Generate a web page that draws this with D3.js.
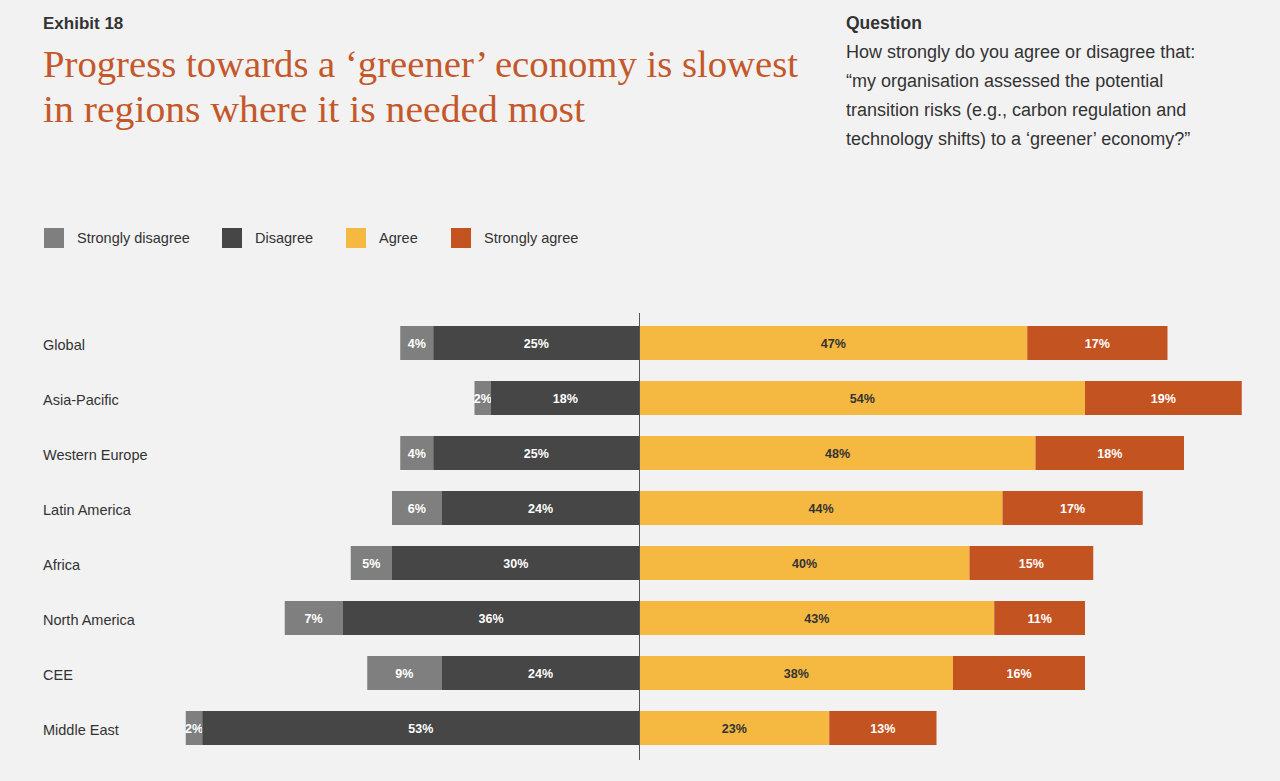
<!DOCTYPE html>
<html><head><meta charset="utf-8">
<script src="https://cdn.jsdelivr.net/npm/d3@7"></script>
<style>
html,body{margin:0;padding:0;background:#f2f2f2;}
svg{display:block;}
</style></head>
<body>
<svg id="chart" width="1280" height="781"></svg>
<script>
const categories = ["Global","Asia-Pacific","Western Europe","Latin America","Africa","North America","CEE","Middle East"];
const stronglyDisagree = [4,2,4,6,5,7,9,2];
const disagree = [25,18,25,24,30,36,24,53];
const agree = [47,54,48,44,40,43,38,23];
const stronglyAgree = [17,19,18,17,15,11,16,13];
const seriesNames = ["Strongly disagree","Disagree","Agree","Strongly agree"];
const seriesColors = ["#7f7f7f","#464646","#f5b841","#c45322"];
const labelColors = ["#ffffff","#ffffff","#333333","#ffffff"];

const svg = d3.select("#chart");
svg.append("rect").attr("width",1280).attr("height",781).attr("fill","#f2f2f2");

const sans = "'Liberation Sans', Arial, Helvetica, sans-serif";

// Header
svg.append("text").attr("x",43).attr("y",29).attr("font-family",sans).attr("font-weight","bold")
  .attr("font-size",17).attr("fill","#333").text("Exhibit 18");
const titleLines = ["Progress towards a \u2018greener\u2019 economy is slowest","in regions where it is needed most"];
const titleLens = [755, 542];
titleLines.forEach((t,i)=>{
  svg.append("text").attr("x",43).attr("y",77+i*45).attr("font-family","'Liberation Serif','DejaVu Serif',serif")
    .attr("font-size",37).attr("fill","#c4582a").attr("textLength",titleLens[i]).attr("lengthAdjust","spacingAndGlyphs").text(t);
});
svg.append("text").attr("x",846).attr("y",29).attr("font-family",sans).attr("font-weight","bold")
  .attr("font-size",17.5).attr("fill","#333").text("Question");
const qLines = ["How strongly do you agree or disagree that:","\u201cmy organisation assessed the potential","transition risks (e.g., carbon regulation and","technology shifts) to a \u2018greener\u2019 economy?\u201d"];
qLines.forEach((t,i)=>{
  svg.append("text").attr("x",846).attr("y",58+i*29).attr("font-family",sans)
    .attr("font-size",18).attr("fill","#333").text(t);
});

// Legend
const legendX = [44,222,346,451];
seriesNames.forEach((n,i)=>{
  svg.append("rect").attr("x",legendX[i]).attr("y",228).attr("width",20).attr("height",20).attr("fill",seriesColors[i]);
  svg.append("text").attr("x",legendX[i]+33).attr("y",243).attr("font-family",sans).attr("font-size",14.5)
    .attr("fill","#333").text(n);
});

// Scales
const pxPer = 8.25, cx = 639.5;
const x = d3.scaleLinear().domain([-60,75]).range([cx-60*pxPer, cx+75*pxPer]);
const y = d3.scaleBand().domain(categories).range([315.5,755.5]).paddingInner(0.382).paddingOuter(0.191);

const rows = categories.map((c,i)=>{
  const sd = stronglyDisagree[i], d = disagree[i], a = agree[i], sa = stronglyAgree[i];
  return {cat:c, segs:[
    {k:0, x0:-(sd+d), x1:-d, v:sd},
    {k:1, x0:-d, x1:0, v:d},
    {k:2, x0:0, x1:a, v:a},
    {k:3, x0:a, x1:a+sa, v:sa}
  ]};
});

const g = svg.append("g");
rows.forEach(r=>{
  r.segs.forEach(s=>{
    g.append("rect").attr("x",x(s.x0)).attr("y",y(r.cat)).attr("width",x(s.x1)-x(s.x0))
      .attr("height",y.bandwidth()).attr("fill",seriesColors[s.k]);
    g.append("text").attr("x",(x(s.x0)+x(s.x1))/2).attr("y",y(r.cat)+y.bandwidth()/2+4.5)
      .attr("text-anchor","middle").attr("font-family",sans).attr("font-weight","bold").attr("font-size",12.5)
      .attr("fill",labelColors[s.k]).text(s.v+"%");
  });
});

// Category labels
const yAxis = d3.axisLeft(y).tickSize(0).tickPadding(0);
const ya = svg.append("g").attr("transform","translate(43,2)").call(yAxis);
ya.select(".domain").remove();
ya.selectAll("text").attr("text-anchor","start").attr("x",0).attr("dy","0.35em")
  .attr("font-family",sans).attr("font-size",14.5).attr("fill","#333");

// Center line
svg.append("line").attr("x1",x(0)).attr("x2",x(0)).attr("y1",313).attr("y2",760)
  .attr("stroke","#555").attr("stroke-width",1);
</script>
</body></html>
